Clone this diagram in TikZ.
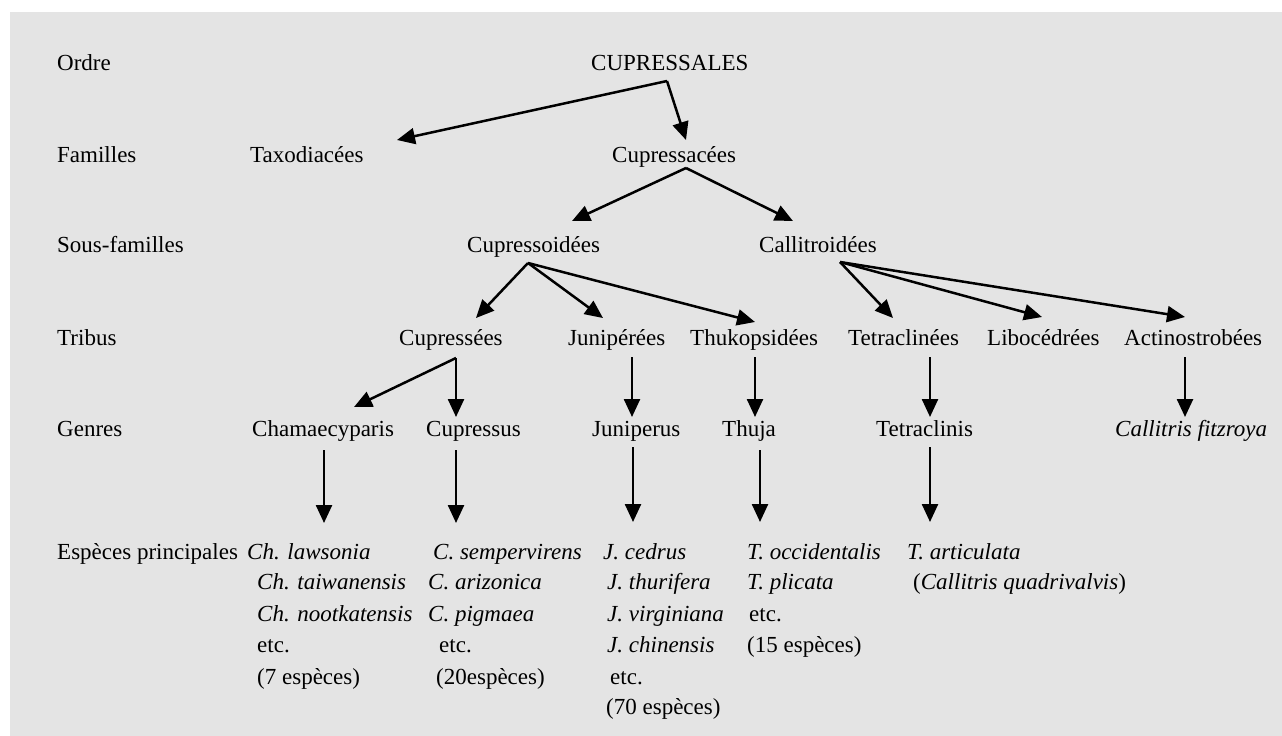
\documentclass[tikz,border=0pt]{standalone}
\usepackage{fontspec}
\setmainfont{Liberation Serif}
\usetikzlibrary{arrows.meta}
\definecolor{bg}{RGB}{228,228,228}
\begin{document}
\begin{tikzpicture}[x=1pt,y=-1pt,
  lbl/.style={anchor=base west,inner sep=0pt,font=\fontsize{23}{31}\selectfont},
  itl/.style={lbl,font=\fontsize{23}{31}\selectfont\itshape},
  arr/.style={line width=2.5pt,-{Triangle[length=18pt,width=16pt]}},
  seg/.style={line width=2.5pt}]
\useasboundingbox (0,0) rectangle (1282,736);
\fill[white] (0,0) rectangle (1282,736);
\fill[bg] (10,12) rectangle (1282,736);
% row labels
\node[lbl] (rOrdre) at (57,70) {Ordre};
\node[lbl] (rFam) at (57,162) {Familles};
\node[lbl] (rSous) at (57,252) {Sous-familles};
\node[lbl] (rTrib) at (57,345) {Tribus};
\node[lbl] (rGen) at (57,436) {Genres};
\node[lbl] (rEsp) at (57,559) {Espèces principales};
% taxa
\node[lbl] (cupressales) at (591,70) {CUPRESSALES};
\node[lbl] (taxod) at (250,162) {Taxodiacées};
\node[lbl] (cupressac) at (612,162) {Cupressacées};
\node[lbl] (cupressoid) at (467,252) {Cupressoidées};
\node[lbl] (callitroid) at (759,252) {Callitroidées};
\node[lbl] (cupressees) at (399,345) {Cupressées};
\node[lbl] (juniperees) at (568,345) {Junipérées};
\node[lbl] (thukops) at (690,345) {Thukopsidées};
\node[lbl] (tetraclinees) at (848,345) {Tetraclinées};
\node[lbl] (libocedrees) at (987,345) {Libocédrées};
\node[lbl] (actino) at (1124,345) {Actinostrobées};
\node[lbl] (chamae) at (252,436) {Chamaecyparis};
\node[lbl] (cupressus) at (426,436) {Cupressus};
\node[lbl] (juniperus) at (592,436) {Juniperus};
\node[lbl] (thuja) at (722,436) {Thuja};
\node[lbl] (tetraclinis) at (876,436) {Tetraclinis};
\node[itl] (callfitz) at (1115,436) {Callitris fitzroya};
% species
\node[itl] (ch1) at (247,559) {Ch. lawsonia};
\node[itl] (ch2) at (257,589) {Ch. taiwanensis};
\node[itl] (ch3) at (257,621) {Ch. nootkatensis};
\node[lbl] (ch4) at (257,652) {etc.};
\node[lbl] (ch5) at (257,684) {(7 espèces)};
\node[itl] (cu1) at (433,559) {C. sempervirens};
\node[itl] (cu2) at (428,589) {C. arizonica};
\node[itl] (cu3) at (428,621) {C. pigmaea};
\node[lbl] (cu4) at (439,652) {etc.};
\node[lbl] (cu5) at (436,684) {(20espèces)};
\node[itl] (ju1) at (603,559) {J. cedrus};
\node[itl] (ju2) at (607,589) {J. thurifera};
\node[itl] (ju3) at (607,621) {J. virginiana};
\node[itl] (ju4) at (607,652) {J. chinensis};
\node[lbl] (ju5) at (610,684) {etc.};
\node[lbl] (ju6) at (606,714) {(70 espèces)};
\node[itl] (th1) at (747,559) {T. occidentalis};
\node[itl] (th2) at (747,589) {T. plicata};
\node[lbl] (th3) at (749,621) {etc.};
\node[lbl] (th4) at (747,652) {(15 espèces)};
\node[itl] (te1) at (907,559) {T. articulata};
\node[lbl] (te2) at (913,589) {(\textit{Callitris quadrivalvis})};
% connector points
\coordinate (o0) at (667,81);
\coordinate (iTax) at (397,140);
\coordinate (iCac) at (686,140);
\coordinate (o1) at (686,168);
\coordinate (iCoid) at (572,221);
\coordinate (iCall) at (793,221);
\coordinate (o2) at (528,263);
\coordinate (iCees) at (476,318);
\coordinate (iJees) at (603,318);
\coordinate (iThuk) at (755,322);
\coordinate (o3) at (840,262);
\coordinate (iTees) at (893,318);
\coordinate (iLib) at (1042,317);
\coordinate (iAct) at (1185,317);
\coordinate (o4) at (456,358);
\coordinate (iCham) at (354,407);
\coordinate (iCus) at (456,417);
\coordinate (oJ) at (632,357); \coordinate (iJ) at (632,417);
\coordinate (oT) at (755,357); \coordinate (iT) at (755,417);
\coordinate (oTe) at (930,357); \coordinate (iTe) at (930,417);
\coordinate (oA) at (1185,357); \coordinate (iA) at (1185,417);
\coordinate (gCh) at (324,450); \coordinate (sCh) at (324,523);
\coordinate (gCu) at (456,450); \coordinate (sCu) at (456,523);
\coordinate (gJu) at (633,447); \coordinate (sJu) at (633,522);
\coordinate (gTh) at (760,450); \coordinate (sTh) at (760,522);
\coordinate (gTe) at (930,447); \coordinate (sTe) at (930,522);
% connectors
\draw[arr] (o0) -- (iTax);
\draw[arr] (o0) -- (iCac);
\draw[arr] (o1) -- (iCoid);
\draw[arr] (o1) -- (iCall);
\draw[arr] (o2) -- (iCees);
\draw[arr] (o2) -- (iJees);
\draw[arr] (o2) -- (iThuk);
\draw[arr] (o3) -- (iTees);
\draw[arr] (o3) -- (iLib);
\draw[arr] (o3) -- (iAct);
\draw[arr] (o4) -- (iCham);
\draw[arr] (o4) -- (iCus);
\draw[arr] (oJ) -- (iJ);
\draw[arr] (oT) -- (iT);
\draw[arr] (oTe) -- (iTe);
\draw[arr] (oA) -- (iA);
\draw[arr] (gCh) -- (sCh);
\draw[arr] (gCu) -- (sCu);
\draw[arr] (gJu) -- (sJu);
\draw[arr] (gTh) -- (sTh);
\draw[arr] (gTe) -- (sTe);
\end{tikzpicture}
\end{document}
